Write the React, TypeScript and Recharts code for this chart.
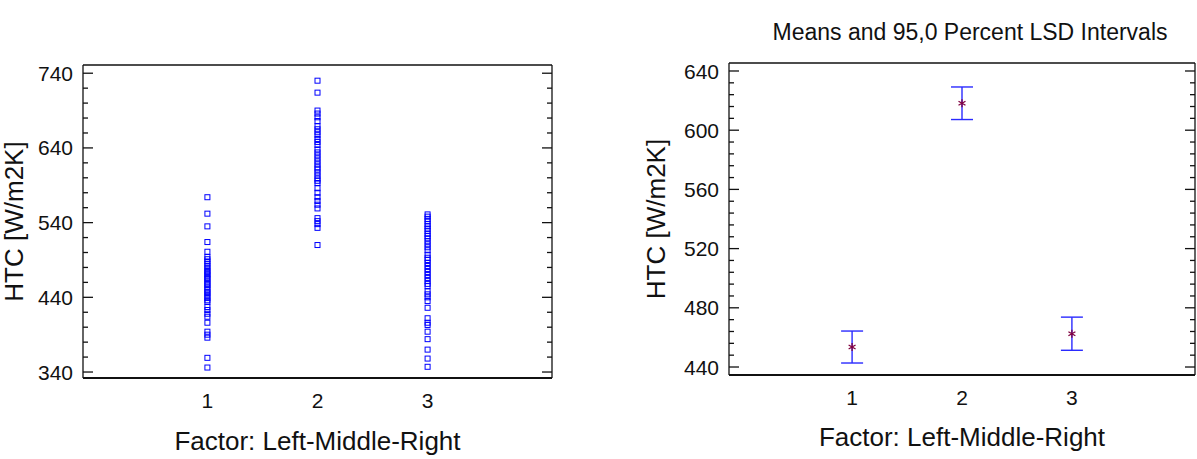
import React from "react";
import {
  ScatterChart,
  Scatter,
  XAxis,
  YAxis,
  ErrorBar,
  Label,
} from "recharts";

// factor levels (1 = Left, 2 = Middle, 3 = Right)
const levels = [1, 2, 3];

// individual HTC observations per level [W/m2K]
const leftHTC = [
  574, 552, 535, 514, 501, 494, 491, 488, 485, 482, 479, 476, 474, 471, 469,
  466, 464, 461, 458, 456, 453, 450, 447, 445, 442, 439, 436, 434, 427, 423,
  418, 414, 406, 394, 390, 386, 359, 346,
];
const middleHTC = [
  730, 714, 690, 686, 681, 676, 669, 665, 661, 657, 652, 648, 644, 638, 634,
  630, 626, 622, 618, 614, 611, 607, 603, 599, 596, 593, 586, 580, 574, 569,
  564, 559, 546, 542, 538, 533, 510,
];
const rightHTC = [
  551, 548, 545, 542, 538, 535, 532, 529, 525, 522, 519, 515, 511, 507, 503,
  497, 493, 490, 486, 482, 478, 474, 470, 466, 462, 458, 455, 448, 444, 440,
  435, 426, 412, 406, 403, 394, 384, 370, 358, 347,
];

// means and 95% LSD half widths
const meanHTC = [453.5, 618.2, 462.5];
const lsdHalf = [10.8, 11.0, 11.2];

// axis ticks
const xTicks = [1, 2, 3];
const leftMajor = [340, 440, 540, 640, 740];
const leftMinor = [360, 380, 400, 420, 460, 480, 500, 520, 560, 580, 600, 620, 660, 680, 700, 720];
const rightMajor = [440, 480, 520, 560, 600, 640];
const rightMinor = [448, 456, 464, 472, 488, 496, 504, 512, 528, 536, 544, 552, 568, 576, 584, 592, 608, 616, 624, 632];

const FONT = "'Liberation Sans', Arial, sans-serif";
const INK = "#111";

const scatterData = [leftHTC, middleHTC, rightHTC].flatMap((vals, i) =>
  vals.map((v) => ({ x: levels[i], y: v }))
);
const meanData = levels.map((lv, i) => ({ x: lv, y: meanHTC[i], err: lsdHalf[i] }));

const yTick = (major: number[], side: "left" | "right") => (props: any) => {
  const { x, y, payload } = props;
  const isMajor = major.includes(payload.value);
  const len = isMajor ? 10 : 5;
  const dir = side === "left" ? 1 : -1;
  return (
    <g>
      <line x1={x} y1={y} x2={x + dir * len} y2={y} stroke={INK} strokeWidth={1.3} />
      {side === "left" && isMajor && (
        <text x={x - 10} y={y} dy="0.36em" textAnchor="end" fontSize={21} fontFamily={FONT} fill={INK}>
          {payload.value}
        </text>
      )}
    </g>
  );
};

const xTick = (props: any) => {
  const { x, y, payload } = props;
  return (
    <text x={x} y={y + 22} dy="0.36em" textAnchor="middle" fontSize={21} fontFamily={FONT} fill={INK}>
      {payload.value}
    </text>
  );
};

const xTitle = (dy: number) => (props: any) => {
  const vb = props.viewBox;
  return (
    <text x={vb.x + vb.width / 2} y={vb.y + dy} dy="0.36em" textAnchor="middle" fontSize={26} fontFamily={FONT} fill={INK}>
      Factor: Left-Middle-Right
    </text>
  );
};

const yTitle = (bx: number) => (props: any) => {
  const vb = props.viewBox;
  const x = vb.x + bx;
  const y = vb.y + vb.height / 2;
  return (
    <text x={x} y={y} transform={`rotate(-90 ${x} ${y})`} textAnchor="middle" fontSize={26} fontFamily={FONT} fill={INK}>
      HTC [W/m2K]
    </text>
  );
};

const square = (p: any) => (
  <rect x={p.cx - 2.5} y={p.cy - 2.5} width={5} height={5} fill="none" stroke="#0000ff" strokeWidth={1} />
);

const asterisk = (p: any) => {
  const r = 4;
  const { cx, cy } = p;
  return (
    <g stroke="#80003f" strokeWidth={1.3}>
      <line x1={cx} y1={cy - r} x2={cx} y2={cy + r} />
      <line x1={cx - r * 0.87} y1={cy - r / 2} x2={cx + r * 0.87} y2={cy + r / 2} />
      <line x1={cx - r * 0.87} y1={cy + r / 2} x2={cx + r * 0.87} y2={cy - r / 2} />
    </g>
  );
};

const frameAxes = (xDomain: [number, number], yDomain: [number, number], yTickList: number[], major: number[]) => [
  <XAxis
    key="top"
    xAxisId="top"
    orientation="top"
    type="number"
    dataKey="x"
    domain={xDomain}
    allowDataOverflow
    height={1}
    tick={false}
    tickLine={false}
    axisLine={{ stroke: INK, strokeWidth: 1.3 }}
  />,
  <YAxis
    key="right"
    yAxisId="right"
    orientation="right"
    type="number"
    dataKey="y"
    domain={yDomain}
    allowDataOverflow
    ticks={yTickList}
    interval={0}
    width={1}
    tickLine={false}
    tickSize={0}
    tickMargin={0}
    tick={yTick(major, "right")}
    axisLine={{ stroke: INK, strokeWidth: 1.3 }}
  />,
];

export default function App() {
  const xDomainL: [number, number] = [-0.13, 4.13];
  const xDomainR: [number, number] = [-0.12, 4.12];
  const yDomainL: [number, number] = [332, 751];
  const yDomainR: [number, number] = [434.6, 645.4];
  const leftTicks = [...leftMajor, ...leftMinor].sort((a, b) => a - b);
  const rightTicks = [...rightMajor, ...rightMinor].sort((a, b) => a - b);

  return (
    <div style={{ position: "absolute", left: 0, top: 0, width: 1197, height: 459, background: "#fff", fontFamily: FONT }}>
      {/* scatter of observations */}
      <div style={{ position: "absolute", left: 0, top: 0 }}>
        <ScatterChart width={560} height={459} margin={{ top: 64, right: 7, bottom: 0, left: 0 }}>
          <XAxis
            type="number"
            dataKey="x"
            domain={xDomainL}
            ticks={xTicks}
            interval={0}
            tickLine={false}
            tickSize={0}
            tickMargin={0}
            tick={xTick}
            height={81}
            axisLine={{ stroke: INK, strokeWidth: 2 }}
          >
            <Label content={xTitle(63)} />
          </XAxis>
          <YAxis
            type="number"
            dataKey="y"
            domain={yDomainL}
            ticks={leftTicks}
            interval={0}
            width={83}
            tickLine={false}
            tickSize={0}
            tickMargin={0}
            tick={yTick(leftMajor, "left")}
            axisLine={{ stroke: INK, strokeWidth: 1.3 }}
          >
            <Label content={yTitle(23)} />
          </YAxis>
          {frameAxes(xDomainL, yDomainL, leftTicks, leftMajor)}
          <Scatter data={scatterData} shape={square} isAnimationActive={false} />
          <Scatter xAxisId="top" yAxisId="right" data={scatterData} shape={() => <g />} isAnimationActive={false} />
        </ScatterChart>
      </div>

      {/* means with LSD intervals */}
      <div
        style={{
          position: "absolute",
          left: 745,
          top: 18,
          width: 450,
          textAlign: "center",
          fontSize: 23,
          lineHeight: "28px",
          color: INK,
        }}
      >
        Means and 95,0 Percent LSD Intervals
      </div>
      <div style={{ position: "absolute", left: 600, top: 0 }}>
        <ScatterChart width={597} height={459} margin={{ top: 62, right: 1, bottom: 0, left: 0 }}>
          <XAxis
            type="number"
            dataKey="x"
            domain={xDomainR}
            ticks={xTicks}
            interval={0}
            tickLine={false}
            tickSize={0}
            tickMargin={0}
            tick={xTick}
            height={84}
            axisLine={{ stroke: INK, strokeWidth: 2 }}
          >
            <Label content={xTitle(62)} />
          </XAxis>
          <YAxis
            type="number"
            dataKey="y"
            domain={yDomainR}
            ticks={rightTicks}
            interval={0}
            width={129}
            tickLine={false}
            tickSize={0}
            tickMargin={0}
            tick={yTick(rightMajor, "left")}
            axisLine={{ stroke: INK, strokeWidth: 1.3 }}
          >
            <Label content={yTitle(65)} />
          </YAxis>
          {frameAxes(xDomainR, yDomainR, rightTicks, rightMajor)}
          <Scatter data={meanData} dataKey="y" shape={asterisk} isAnimationActive={false}>
            <ErrorBar dataKey="err" direction="y" width={11} stroke="#2a2aff" strokeWidth={1.4} />
          </Scatter>
          <Scatter xAxisId="top" yAxisId="right" data={meanData} dataKey="y" shape={() => <g />} isAnimationActive={false} />
        </ScatterChart>
      </div>
    </div>
  );
}
